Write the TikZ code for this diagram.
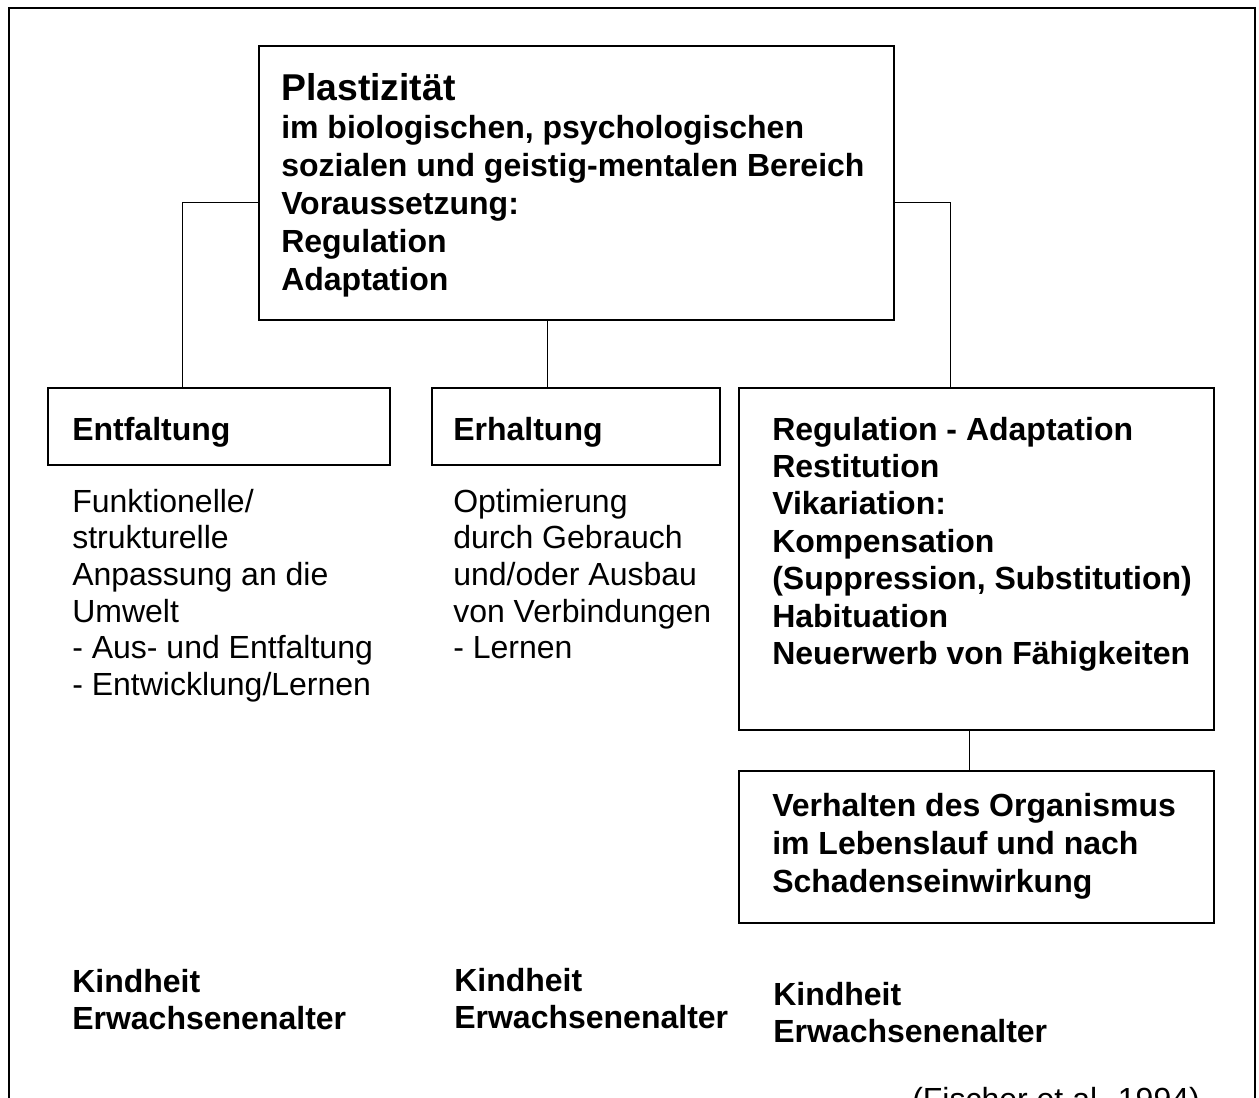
\documentclass[tikz,border=0pt]{standalone}
\usepackage{fontspec}
\setmainfont{Liberation Sans}
\usetikzlibrary{calc}
\newcommand{\mlines}[1]{\begin{tabular}[t]{@{}l@{}}#1\end{tabular}}
\begin{document}
\begin{tikzpicture}[x=0.75pt,y=-0.75pt,
  box/.style={draw, line width=1.3pt, inner sep=0pt, anchor=north west},
  link/.style={line width=0.8pt},
  txt/.style={inner sep=0pt, anchor=base west, font=\fontsize{24}{27.5}\selectfont},
  boldtxt/.style={txt, font=\fontsize{24}{28.1}\selectfont\bfseries},
]
\useasboundingbox (0,0) rectangle (1259,1097);
\clip (0,0) rectangle (1259,1097);
% outer frame
\draw[line width=1.5pt] (9,8) rectangle (1255,1140);

% boxes
\node[box, minimum width=476.25pt, minimum height=205.5pt] (plast) at (258,45) {};
\node[box, minimum width=256.5pt, minimum height=57.75pt] (entf) at (47,387) {};
\node[box, minimum width=216pt, minimum height=57.75pt] (erh) at (431,387) {};
\node[box, minimum width=356.25pt, minimum height=256.5pt] (reg) at (738,387) {};
\node[box, minimum width=356.25pt, minimum height=114pt] (verh) at (738,770) {};

% texts
\node[txt, font=\fontsize{28}{33}\selectfont\bfseries] (ptitle) at (281,100) {Plastizität};
\node[txt, font=\fontsize{24}{28.5}\selectfont\bfseries] (pbody) at (281,138)
  {\mlines{im biologischen, psychologischen\\sozialen und geistig-mentalen Bereich\\Voraussetzung:\\Regulation\\Adaptation}};
\node[boldtxt] (entft) at (72,440) {Entfaltung};
\node[boldtxt] (erht) at (453,440) {Erhaltung};
\node[boldtxt] (regt) at (772,440)
  {\mlines{Regulation - Adaptation\\Restitution\\Vikariation:\\Kompensation\\(Suppression, Substitution)\\Habituation\\Neuerwerb von Fähigkeiten}};
\node[txt, font=\fontsize{24}{28.5}\selectfont\bfseries] (verht) at (772,816)
  {\mlines{Verhalten des Organismus\\im Lebenslauf und nach\\Schadenseinwirkung}};
\node[txt] (entfd) at (72,512)
  {\mlines{Funktionelle/\\strukturelle\\Anpassung an die\\Umwelt\\- Aus- und Entfaltung\\- Entwicklung/Lernen}};
\node[txt] (erhd) at (453,512)
  {\mlines{Optimierung\\durch Gebrauch\\und/oder Ausbau\\von Verbindungen\\- Lernen}};
\node[boldtxt] (age1) at (72,992) {\mlines{Kindheit\\Erwachsenenalter}};
\node[boldtxt] (age2) at (454,991) {\mlines{Kindheit\\Erwachsenenalter}};
\node[boldtxt] (age3) at (773,1005) {\mlines{Kindheit\\Erwachsenenalter}};
\node[txt] (cite) at (912,1110) {(Fischer et al. 1994)};

% connectors
\coordinate (pl) at ([yshift=-15pt]plast.west);
\coordinate (pr) at ([yshift=-15pt]plast.east);
\draw[link] (pl) -| ($(entf.north west)!0.395!(entf.north east)$);
\draw[link] (pr) -| ($(reg.north west)!0.446!(reg.north east)$);
\coordinate (pm) at ($(plast.south west)!0.455!(plast.south east)$);
\draw[link] (pm) -- (pm |- erh.north);
\coordinate (rm) at ($(reg.south west)!0.486!(reg.south east)$);
\draw[link] (rm) -- (rm |- verh.north);
\end{tikzpicture}
\end{document}
